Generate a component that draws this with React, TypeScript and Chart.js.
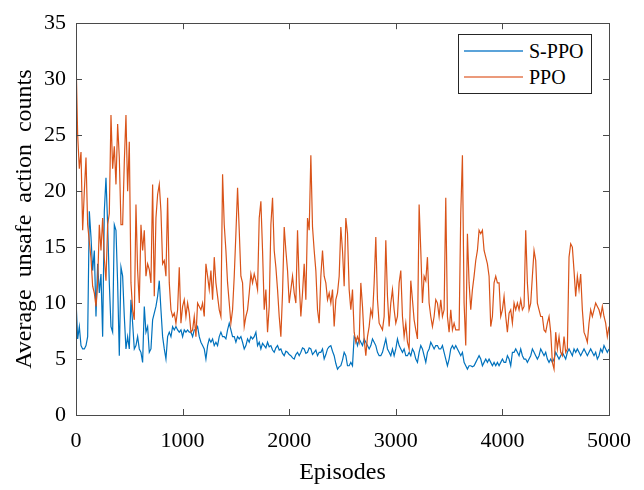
import React, { useEffect, useRef } from "react";
import { Chart, registerables } from "chart.js";

Chart.register(...registerables);

const SERIES_NAMES = ["S-PPO", "PPO"];
const SERIES_COLORS = ["#0072BD", "#D95319"];
const LEGEND_COLORS = ["#5ba3d9", "#eb9a7b"];
const EPISODE_MAX = 5000;
const X_TICKS = [0, 1000, 2000, 3000, 4000, 5000];
const Y_TICKS = [0, 5, 10, 15, 20, 25, 30, 35];
const X_TITLE = "Episodes";
const Y_TITLE = "Average  unsafe  action  counts";

const SPPO = [
  10.3, 6.8, 7.9, 6.2, 5.9, 5.9, 6.2, 7, 18.2, 15.9, 12.9, 14.7, 8.8, 13.5, 10.9, 12.6, 7, 18.2, 21.2, 17, 11.8,
  7.9, 7.4, 17, 16.5, 11.8, 5.3, 13.2, 12.4, 8.8, 5.9, 7, 5.9, 10.3, 8.2, 5.9, 6.2, 7, 5.9, 5.6, 4.7, 9.7, 7.4,
  7.9, 5.6, 5.9, 8.5, 9.1, 9.7, 10.6, 12, 9.4, 7, 5.9, 5,
  7, 7.4, 7, 7.9, 7.6, 7.9, 7.6, 7.4, 7.6, 7, 7.6, 7.4, 7.6, 7.4, 7.4, 7, 7.6, 7.6, 7.9, 7, 6.5, 6.2, 5.9, 5,
  6.2, 6.8, 6.5, 6.8, 6.2, 6.5, 6.2, 7, 7.4, 7, 7, 6.8, 7.6, 8.2, 7.6, 7, 7, 6.5, 7, 6.8, 7, 6.5, 5.9, 6.2, 6.8,
  6.5, 7, 6.8, 7, 7.4,
  6.2, 6.5, 5.9, 6.4, 6.2, 6.0, 6.5, 6.1, 6.2, 5.8, 5.6, 6.0, 6.2, 5.8, 5.9, 5.5, 5.3, 5.7, 5.6, 5.4, 5.3, 5.1,
  5.0, 5.4, 5.6, 5.3, 5.6, 6.0, 5.9, 5.5, 5.6, 6.0, 5.9, 5.4, 5.6, 5.8, 5.3, 5.6, 5.6, 5.9, 5.0, 5.4, 5.9, 6.1,
  6.2, 5.7, 5.3, 4.6, 4.1, 4.3, 4.4, 4.9, 5.6, 5.3,
  4.4, 4.4, 4.7, 4.4, 7, 6.8, 6.2, 6.8, 6.5, 6.2, 6.8, 6.5, 6.2, 5.9, 6.2, 6.8, 6.5, 6.2, 5.6, 5.3, 5.3, 5.6,
  6.2, 6.8, 5.9, 5.6, 5.3, 5.9, 5.3, 5.9, 6.8, 6.2, 5.9, 5.6, 5.9, 5.3, 5.3, 5.6, 5.3, 5.9, 5.6, 5, 4.7, 5.6,
  6.2, 5.9, 5.3, 4.7, 5.6, 5.9, 6.5, 6.2, 5.9, 6.2,
  6.2, 5.9, 5.9, 6.2, 5.6, 5, 4.4, 5, 5.9, 6.2, 5.9, 6.2, 5.9, 5.6, 5.3, 5.6, 4.7, 4.4, 4.1, 4.4, 4.4, 4.3, 4.4,
  4.7, 5, 5.3, 5, 4.4, 4.7, 5, 4.7, 5, 4.7, 4.4, 4.7, 4.4, 4.7, 4.4, 4.7, 5, 4.7, 4.7, 5.3, 5, 4.4, 5.6, 5.6,
  5.9, 5.6, 5.3, 5.9, 5.3, 5, 5,
  4.7, 5, 5.3, 5.9, 5.6, 5.3, 5, 5.3, 5.9, 5.6, 5.3, 5.6, 5, 4.7, 5, 4.7, 5, 5.6, 5.3, 5, 5.3, 5.6, 5.3, 5, 5.6,
  5.9, 5.6, 5.3, 5.9, 5.6, 5.9, 5.6, 5.3, 5.6, 5.9, 5.6, 5.3, 5.6, 5.9, 5.6, 5.3, 5.6, 5, 5.3, 5.9, 5.6, 6.2,
  5.9, 5.6, 5.9,
];

const PPO = [
  32, 25, 22, 23.5, 16.5, 20, 23, 17, 15.5, 14, 11.5, 10.9, 9.7, 11.8, 17, 14.7, 17.6, 14, 12, 17, 18, 26.8, 22,
  24, 20.6, 26, 23, 17, 17, 22.6, 26.8, 20, 24.4, 11.8, 9.4, 8.5, 18.8, 12.9, 10, 17, 14.7, 16.5, 12.4, 13.5, 13,
  11.8, 20.6, 10.6, 17.6, 19.7, 20.6, 18.2, 13.5, 13.8, 12.4,
  19.4, 11.8, 9.4, 8.8, 9.1, 8.2, 9.4, 13.2, 8.2, 9.7, 10.3, 8.8, 10, 9.1, 7.4, 7.6, 8.8, 7, 10, 9.7, 9.4, 10,
  8.8, 13.5, 12.4, 11.2, 12.9, 10.3, 14.1, 11.8, 10.6, 9.4, 8.8, 21.5, 17, 14.7, 11.8, 10, 8.2, 9.4, 12.4, 16.2,
  20.3, 16.5, 12.4, 11.8, 7.9, 8.8, 9.4, 10.9, 12.6, 11.8, 12.6, 12,
  11.2, 17.6, 19.1, 14.7, 9.4, 11.2, 7.4, 9.7, 17, 19.4, 14.7, 13.2, 11.2, 8.8, 7, 10.9, 16.8, 14.7, 12.9, 10,
  11.2, 12.4, 10.9, 10, 16.5, 11.8, 8.8, 10.9, 13.5, 10.3, 17.6, 16.5, 23.2, 16.8, 14.7, 12.9, 9.4, 8.2, 12.4,
  14.7, 12.4, 11.8, 10.3, 10.9, 10, 11.2, 7.9, 10.3, 10.9, 12.4, 16.8, 14.7, 11.5, 17.6,
  16.2, 11.2, 9.4, 11.2, 7.4, 6.5, 7, 6.5, 11.8, 9.7, 6.8, 5.3, 7, 7.9, 9.4, 8.8, 11.8, 15.9, 10.3, 8.2, 7.9, 7.6,
  8.8, 15.6, 10.6, 7.9, 10, 11.2, 9.4, 8.2, 8.8, 11.8, 12.9, 8.8, 7, 8.2, 6.5, 5.9, 12, 10.3, 8.5, 7.6, 6.8, 18.8,
  14.7, 10, 12.4, 12, 14.1, 10, 8.8, 7.9, 8.8, 10.3,
  10, 8.8, 10.3, 8.8, 9.4, 19.4, 8.8, 7.4, 9.4, 7.6, 8.2, 7.6, 7.6, 7.6, 18, 23.2, 10, 6.2, 16.2, 11.8, 9.4, 11.2,
  12.4, 13.8, 14.7, 16.5, 16.2, 16.5, 14.7, 14.1, 13.5, 12.4, 7.9, 8.8, 11.8, 12.4, 11.8, 11.8, 8.8, 9.4, 10.6,
  8.8, 7.4, 9.1, 9.4, 8.2, 10, 9.4, 10, 9.4, 10.3, 9.4, 9.7, 16.5,
  11.8, 9.4, 10, 12.4, 14.7, 13.8, 10, 9.4, 8.8, 8.8, 7.6, 7.4, 8.2, 8.8, 7.4, 4.7, 4.1, 7.4, 5.9, 7, 5.6, 5.3, 7,
  5.6, 5.9, 14.1, 15.3, 15, 12.9, 10.6, 12.4, 11.2, 12.6, 9.4, 7.4, 7, 6.5, 8.2, 9.4, 8.8, 9.4, 10, 9.7, 9.4, 8.8,
  9.7, 8.8, 8.2, 7, 7.9,
];

const EPISODES = PPO.map((_, i) => (i * EPISODE_MAX) / (PPO.length - 1));

const FONT = '"Liberation Serif", "Times New Roman", serif';
const AXIS_COLOR = "#4a4a4a";

const boxTicks = {
  id: "boxTicks",
  afterDatasetsDraw(chart: any) {
    const { ctx, chartArea, scales } = chart;
    const { left, right, top, bottom } = chartArea;
    const L = 6;
    ctx.save();
    ctx.strokeStyle = AXIS_COLOR;
    ctx.lineWidth = 1;
    ctx.beginPath();
    X_TICKS.forEach((v) => {
      const px = Math.round(scales.x.getPixelForValue(v)) + 0.5;
      ctx.moveTo(px, bottom);
      ctx.lineTo(px, bottom - L);
      ctx.moveTo(px, top);
      ctx.lineTo(px, top + L);
    });
    Y_TICKS.forEach((v) => {
      const py = Math.round(scales.y.getPixelForValue(v)) + 0.5;
      ctx.moveTo(left, py);
      ctx.lineTo(left + L, py);
      ctx.moveTo(right, py);
      ctx.lineTo(right - L, py);
    });
    ctx.stroke();
    ctx.strokeRect(Math.round(left) + 0.5, Math.round(top) + 0.5, Math.round(right - left), Math.round(bottom - top));
    ctx.restore();
  },
};

export default function App() {
  const ref = useRef<HTMLCanvasElement>(null);
  useEffect(() => {
    const chart = new Chart(ref.current as HTMLCanvasElement, {
      type: "line",
      data: {
        labels: EPISODES,
        datasets: [
          {
            label: SERIES_NAMES[0],
            data: SPPO,
            borderColor: SERIES_COLORS[0],
            backgroundColor: SERIES_COLORS[0],
            borderWidth: 1.2,
            pointRadius: 0,
            tension: 0,
            order: 1,
          },
          {
            label: SERIES_NAMES[1],
            data: PPO,
            borderColor: SERIES_COLORS[1],
            backgroundColor: SERIES_COLORS[1],
            borderWidth: 1.2,
            pointRadius: 0,
            tension: 0,
            order: 0,
          },
        ],
      },
      options: {
        responsive: false,
        animation: false,
        events: [],
        layout: { padding: { top: 17, right: 35, left: 0, bottom: 0 } },
        plugins: { legend: { display: false }, tooltip: { enabled: false } },
        scales: {
          x: {
            type: "linear",
            min: 0,
            max: EPISODE_MAX,
            afterFit: (s: any) => {
              s.height = 75;
            },
            afterBuildTicks: (s: any) => {
              s.ticks = X_TICKS.map((v) => ({ value: v }));
            },
            grid: { display: false, drawTicks: false },
            border: { display: false },
            ticks: {
              padding: 13,
              maxRotation: 0,
              autoSkip: false,
              color: "#000",
              font: { family: FONT, size: 22 },
              callback: (v: any) => String(v),
            },
            title: {
              display: true,
              text: X_TITLE,
              color: "#000",
              font: { family: FONT, size: 24 },
              padding: { top: 0, bottom: 3 },
            },
          },
          y: {
            type: "linear",
            min: 0,
            max: 35,
            afterFit: (s: any) => {
              s.width = 76;
            },
            afterBuildTicks: (s: any) => {
              s.ticks = Y_TICKS.map((v) => ({ value: v }));
            },
            grid: { display: false, drawTicks: false },
            border: { display: false },
            ticks: {
              padding: 10,
              color: "#000",
              font: { family: FONT, size: 22 },
              callback: (v: any) => String(v),
            },
            title: {
              display: true,
              text: Y_TITLE,
              color: "#000",
              font: { family: FONT, size: 24 },
              padding: { top: 10, bottom: 0 },
            },
          },
        },
      },
      plugins: [boxTicks],
    });
    return () => chart.destroy();
  }, []);

  return (
    <div style={{ position: "fixed", left: 0, top: 0, width: 644, height: 490, background: "#fff" }}>
      <canvas ref={ref} width={644} height={490} style={{ display: "block", width: 644, height: 490 }} />
      <div
        style={{
          position: "absolute",
          left: 458,
          top: 34,
          width: 132,
          height: 58,
          border: `1px solid #262626`,
          background: "#fff",
          fontFamily: FONT,
          fontSize: 20,
          color: "#000",
        }}
      >
        {SERIES_NAMES.map((name, i) => (
          <div
            key={name}
            style={{
              position: "absolute",
              left: 5,
              top: i === 0 ? 3 : 29,
              height: 26,
              display: "flex",
              alignItems: "center",
              whiteSpace: "nowrap",
            }}
          >
            <span
              style={{
                display: "inline-block",
                width: 59,
                height: 0,
                borderTop: `2px solid ${LEGEND_COLORS[i]}`,
                marginRight: 6,
              }}
            />
            <span>{name}</span>
          </div>
        ))}
      </div>
    </div>
  );
}
